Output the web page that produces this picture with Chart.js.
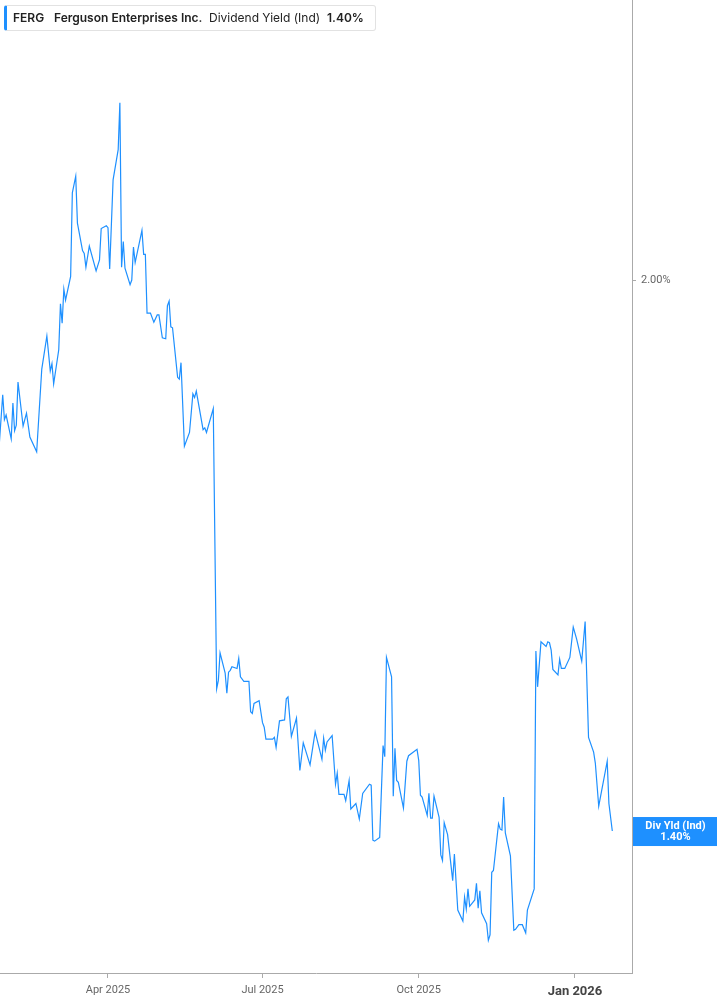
<!DOCTYPE html>
<html>
<head>
<meta charset="utf-8">
<title>FERG Dividend Yield</title>
<script src="https://cdn.jsdelivr.net/npm/chart.js@4"></script>
<style>
  body { margin: 0; background: #fff; font-family: Inter, Roboto, sans-serif; }
  #wrap { position: relative; width: 717px; height: 1005px; }
  #legend {
    position: absolute; left: 4px; top: 5px; width: 372px; height: 26px;
    border: 1px solid #e2e2e2; border-left: 3px solid #1e90ff; border-radius: 3px;
    background: #fff; font-size: 12px; color: #222; line-height: 24px;
    box-sizing: border-box; white-space: nowrap;
  }
  #legend span { position: absolute; top: 0; }
  #legend b { font-weight: 600; }
</style>
</head>
<body>
<div id="wrap">
  <canvas id="yieldChart"></canvas>
  <div id="legend">
    <span style="left:6px"><b>FERG</b></span>
    <span style="left:47px"><b>Ferguson Enterprises Inc.</b></span>
    <span style="left:202px">Dividend Yield (Ind)</span>
    <span style="left:320px"><b>1.40%</b></span>
  </div>
</div>
<script>
// days counted from 2025-01-01 (day 0)
const days = [26, 28, 29, 30, 33, 34, 35, 36, 37, 40, 42, 44, 48, 51, 54, 56, 57, 58, 61, 62,
  63, 64, 65, 68, 69, 71, 72, 75, 76, 77, 79, 83, 85, 86, 89, 90, 91, 93, 96, 97,
  98, 99, 100, 103, 104, 105, 106, 110, 111, 112, 113, 115, 117, 119, 120, 122, 124, 125, 126, 127,
  128, 131, 132, 133, 135, 138, 140, 141, 142, 146, 147, 148, 152, 154, 155, 156, 159, 160, 161, 162,
  163, 166, 167, 168, 170, 173, 174, 175, 176, 179, 181, 182, 183, 187, 188, 189, 191, 194, 195, 196,
  198, 201, 203, 205, 209, 212, 216, 217, 218, 219, 222, 224, 225, 226, 229, 230, 232, 233, 236, 238,
  240, 244, 245, 246, 247, 250, 252, 253, 254, 257, 258, 259, 260, 261, 264, 266, 267, 272, 273, 274,
  275, 278, 279, 280, 281, 282, 285, 286, 287, 288, 290, 293, 294, 296, 299, 300, 301, 302, 303, 306,
  307, 308, 309, 310, 313, 314, 315, 316, 317, 320, 321, 322, 323, 324, 327, 329, 330, 332, 334, 336,
  337, 341, 342, 343, 345, 348, 349, 350, 351, 352, 355, 356, 357, 359, 362, 364, 366, 369, 371, 373,
  376, 377, 379, 384, 385, 387];

const yields = [1.822, 1.875, 1.848, 1.853, 1.827, 1.866, 1.836, 1.842, 1.889, 1.841, 1.855, 1.829, 1.813, 1.903, 1.939, 1.901, 1.909, 1.887, 1.924, 1.974,
  1.953, 1.990, 1.978, 2.004, 2.095, 2.113, 2.062, 2.032, 2.029, 2.014, 2.037, 2.010, 2.022, 2.056, 2.059, 2.057, 2.012, 2.109, 2.142, 2.193,
  2.014, 2.042, 2.013, 1.995, 2.000, 2.036, 2.019, 2.054, 2.028, 2.028, 1.964, 1.964, 1.954, 1.962, 1.962, 1.937, 1.936, 1.972, 1.977, 1.949,
  1.948, 1.894, 1.892, 1.910, 1.819, 1.834, 1.876, 1.872, 1.879, 1.837, 1.839, 1.834, 1.860, 1.555, 1.564, 1.594, 1.572, 1.550, 1.573, 1.575,
  1.579, 1.577, 1.588, 1.568, 1.563, 1.563, 1.530, 1.528, 1.539, 1.542, 1.518, 1.513, 1.500, 1.500, 1.502, 1.491, 1.520, 1.521, 1.544, 1.546,
  1.503, 1.523, 1.466, 1.496, 1.472, 1.508, 1.478, 1.501, 1.488, 1.497, 1.504, 1.451, 1.463, 1.440, 1.440, 1.433, 1.455, 1.424, 1.430, 1.413,
  1.441, 1.451, 1.450, 1.390, 1.389, 1.393, 1.493, 1.481, 1.589, 1.568, 1.438, 1.490, 1.455, 1.453, 1.425, 1.476, 1.482, 1.489, 1.477, 1.439,
  1.437, 1.417, 1.441, 1.414, 1.414, 1.438, 1.415, 1.374, 1.368, 1.409, 1.396, 1.346, 1.375, 1.314, 1.302, 1.328, 1.315, 1.337, 1.318, 1.325,
  1.343, 1.316, 1.335, 1.311, 1.299, 1.281, 1.287, 1.355, 1.357, 1.408, 1.402, 1.401, 1.437, 1.398, 1.373, 1.292, 1.293, 1.298, 1.298, 1.289,
  1.314, 1.337, 1.596, 1.557, 1.606, 1.601, 1.606, 1.605, 1.597, 1.576, 1.570, 1.587, 1.577, 1.577, 1.589, 1.622, 1.609, 1.585, 1.628, 1.502,
  1.486, 1.474, 1.427, 1.476, 1.430, 1.400];

const tickDays = [90, 181, 273, 365];
const tickLabels = ["Apr 2025", "Jul 2025", "Oct 2025", "Jan 2026"];
const yTicks = [2.0];

const lineColor = "#1e90ff";
const axisColor = "#aaaaaa";

// blue value tag on the right axis at the last point
const lastTag = {
    id: "lastTag",
    afterDraw(chart) {
        const c = chart.ctx;
        const area = chart.chartArea;
        const last = yields[yields.length - 1];
        const y = chart.scales.y.getPixelForValue(last);
        c.save();
        c.fillStyle = lineColor;
        c.fillRect(area.right + 1, y - 14, chart.width - area.right - 1, 29);
        c.fillStyle = "#fff";
        c.font = "bold 11px Roboto, sans-serif";
        c.textAlign = "center";
        c.textBaseline = "middle";
        const cx = (area.right + chart.width) / 2 + 1;
        c.fillText("Div Yld (Ind)", cx, y - 5);
        c.fillText(last.toFixed(2) + "%", cx, y + 6);
        c.restore();
    }
};

const ctx = document.getElementById("yieldChart");

new Chart(ctx, {
    type: "line",
    data: {
        datasets: [{
            data: days.map((d, i) => ({ x: d, y: yields[i] })),
            borderColor: lineColor,
            borderWidth: 1.2,
            pointRadius: 0,
            tension: 0,
            fill: false
        }]
    },
    options: {
        responsive: true,
        maintainAspectRatio: false,
        animation: false,
        layout: { padding: 0 },
        plugins: {
            legend: { display: false },
            tooltip: { enabled: false }
        },
        scales: {
            x: {
                type: "linear",
                min: 26.4,
                max: 398.6,
                afterBuildTicks: (scale) => { scale.ticks = tickDays.map(v => ({ value: v })); },
                afterFit: (scale) => {
                    scale.height = 32;
                    scale.paddingLeft = 0;
                    scale.paddingRight = 0;
                },
                grid: { drawOnChartArea: false, tickLength: 5, color: axisColor },
                border: { color: axisColor },
                ticks: {
                    autoSkip: false,
                    maxRotation: 0,
                    padding: 6,
                    callback: (v) => tickLabels[tickDays.indexOf(v)],
                    color: (c) => c.tick && c.tick.value === 365 ? "#444" : "#666",
                    font: (c) => c.tick && c.tick.value === 365
                        ? { family: "Roboto", size: 13, weight: "bold" }
                        : { family: "Roboto", size: 11 }
                }
            },
            y: {
                position: "right",
                min: 1.2454,
                max: 2.3049,
                afterBuildTicks: (scale) => { scale.ticks = yTicks.map(v => ({ value: v })); },
                afterFit: (scale) => {
                    scale.width = 85;
                    scale.paddingTop = 0;
                    scale.paddingBottom = 0;
                },
                grid: { drawOnChartArea: false, tickLength: 4, color: axisColor },
                border: { color: axisColor },
                ticks: {
                    padding: 5,
                    color: "#666",
                    font: { family: "Roboto", size: 11 },
                    callback: (v) => v.toFixed(2) + "%"
                }
            }
        }
    },
    plugins: [lastTag]
});
</script>
</body>
</html>
